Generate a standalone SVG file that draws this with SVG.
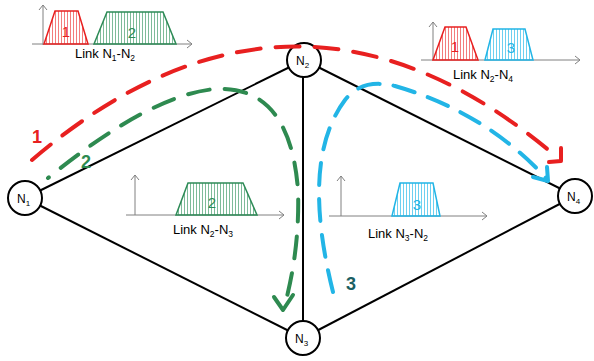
<svg xmlns="http://www.w3.org/2000/svg" width="594" height="361" viewBox="0 0 594 361">
<style>
.edge{stroke:#000;stroke-width:2;fill:none}
.node circle{fill:#fff;stroke:#000;stroke-width:2}
.nl{font-family:"Liberation Sans",Arial,sans-serif;font-size:12px;fill:#000}
.sub{font-size:8px}
.axis{stroke:#808080;stroke-width:1;fill:none}
.lbl{font-family:"Liberation Sans",Arial,sans-serif;font-size:13px;fill:#000}
.lsub{font-size:8.5px}
.tr{fill:url(#pr);stroke:#e82020;stroke-width:1.5}
.tg{fill:url(#pg);stroke:#2e8b57;stroke-width:1.5}
.tb{fill:url(#pb);stroke:#22b5e6;stroke-width:1.5}
.num{font-family:"Liberation Sans",Arial,sans-serif;font-size:15px;text-anchor:middle}
.flow{fill:none;stroke-width:4;stroke-linecap:round;stroke-linejoin:round}
.big{font-family:"Liberation Sans",Arial,sans-serif;font-size:18px;font-weight:bold;text-anchor:middle}
</style>
<defs>
<pattern id="pr" patternUnits="userSpaceOnUse" width="3" height="10"><line x1="1.5" y1="0" x2="1.5" y2="10" stroke="#ee4a4a" stroke-width="0.9" opacity="0.8"/></pattern>
<pattern id="pg" patternUnits="userSpaceOnUse" width="3" height="10"><line x1="1.5" y1="0" x2="1.5" y2="10" stroke="#3d9a66" stroke-width="0.9" opacity="0.75"/></pattern>
<pattern id="pb" patternUnits="userSpaceOnUse" width="3" height="10"><line x1="1.5" y1="0" x2="1.5" y2="10" stroke="#33bdea" stroke-width="0.9" opacity="0.8"/></pattern>
</defs>
<rect width="594" height="361" fill="#fff"/>

<!-- Plot Link N1-N2 -->
<g id="plot12">
<polyline class="axis" points="43,45 43,5"/><polyline class="axis" points="39,10 43,5 47,10"/>
<polyline class="axis" points="32,44 192,44"/><polyline class="axis" points="187,40 192,44 187,48"/>
<polygon points="44,44 55,11 78,11 88,44" class="tr"/>
<text x="66" y="37" class="num" fill="#e82020">1</text>
<polygon points="94,44 107,12 163,12 176,44" class="tg"/>
<text x="132" y="38" class="num" fill="#2e8b57">2</text>
<text x="75" y="58" class="lbl">Link N<tspan class="lsub" dy="3">1</tspan><tspan dy="-3">-N</tspan><tspan class="lsub" dy="3">2</tspan></text>
</g>

<!-- Plot Link N2-N4 -->
<g id="plot24">
<polyline class="axis" points="433,60 433,22"/><polyline class="axis" points="429,27 433,22 437,27"/>
<polyline class="axis" points="421,60 580,60"/><polyline class="axis" points="575,56 580,60 575,64"/>
<polygon points="433,60 445,27 466,27 478,60" class="tr"/>
<text x="455" y="52" class="num" fill="#e82020">1</text>
<polygon points="485,60 493,29 525,29 533,60" class="tb"/>
<text x="511" y="53" class="num" fill="#22b5e6">3</text>
<text x="453" y="79" class="lbl">Link N<tspan class="lsub" dy="3">2</tspan><tspan dy="-3">-N</tspan><tspan class="lsub" dy="3">4</tspan></text>
</g>

<!-- Plot Link N2-N3 -->
<g id="plot23">
<polyline class="axis" points="135,215 135,175"/><polyline class="axis" points="131,180 135,175 139,180"/>
<polyline class="axis" points="126,215 284,215"/><polyline class="axis" points="279,211 284,215 279,219"/>
<polygon points="176,215 188,183 243,183 257,215" class="tg"/>
<text x="212" y="208" class="num" fill="#2e8b57">2</text>
<text x="173" y="234" class="lbl">Link N<tspan class="lsub" dy="3">2</tspan><tspan dy="-3">-N</tspan><tspan class="lsub" dy="3">3</tspan></text>
</g>

<!-- Plot Link N3-N2 -->
<g id="plot32">
<polyline class="axis" points="341,216 341,176"/><polyline class="axis" points="337,181 341,176 345,181"/>
<polyline class="axis" points="329,216 487,216"/><polyline class="axis" points="482,212 487,216 482,220"/>
<polygon points="392,216 400,183 433,183 440,216" class="tb"/>
<text x="417" y="210" class="num" fill="#22b5e6">3</text>
<text x="368" y="238" class="lbl">Link N<tspan class="lsub" dy="3">3</tspan><tspan dy="-3">-N</tspan><tspan class="lsub" dy="3">2</tspan></text>
</g>

<g id="connectors">
<line class="edge" x1="25" y1="198" x2="304" y2="60"/>
<line class="edge" x1="25" y1="198" x2="303" y2="338"/>
<line class="edge" x1="303" y1="60" x2="303" y2="338"/>
<line class="edge" x1="304" y1="60" x2="575" y2="196"/>
<line class="edge" x1="303" y1="338" x2="575" y2="196"/>
</g>

<g id="N1" class="node"><circle cx="25" cy="198" r="17"/><text x="17" y="203" class="nl">N<tspan class="sub" dy="3">1</tspan></text></g>
<g id="N2" class="node"><circle cx="304" cy="60" r="17"/><text x="296" y="65" class="nl">N<tspan class="sub" dy="3">2</tspan></text></g>
<g id="N3" class="node"><circle cx="303" cy="338" r="17"/><text x="295" y="343" class="nl">N<tspan class="sub" dy="3">3</tspan></text></g>
<g id="N4" class="node"><circle cx="575" cy="196" r="17"/><text x="567" y="201" class="nl">N<tspan class="sub" dy="3">4</tspan></text></g>

<g id="flows">
<path class="flow" stroke="#e82020" stroke-dasharray="24 15" d="M32,160 Q296,-66 558,158"/>
<polyline class="flow" stroke="#e82020" points="561,148 561,161 549,162"/>
<path class="flow" stroke="#2e8a50" stroke-dasharray="22 15" stroke-dashoffset="21" d="M48,178 Q150,95 215,89 Q290,85 298,190 Q300,250 284,308"/>
<polyline class="flow" stroke="#2e8a50" points="274,297 283,310 293,295"/>
<path class="flow" stroke="#22b5e6" stroke-dasharray="22 14" d="M333,292 Q300,160 345,100 Q362,78 395,86 Q485,112 546,178"/>
<polyline class="flow" stroke="#22b5e6" points="533,177 548,181 547,167"/>
<text x="37" y="143" class="big" fill="#e82020">1</text>
<text x="86" y="168" class="big" fill="#2e8a50">2</text>
<text x="351" y="290" class="big" fill="#1b5f63">3</text>
</g>
</svg>
